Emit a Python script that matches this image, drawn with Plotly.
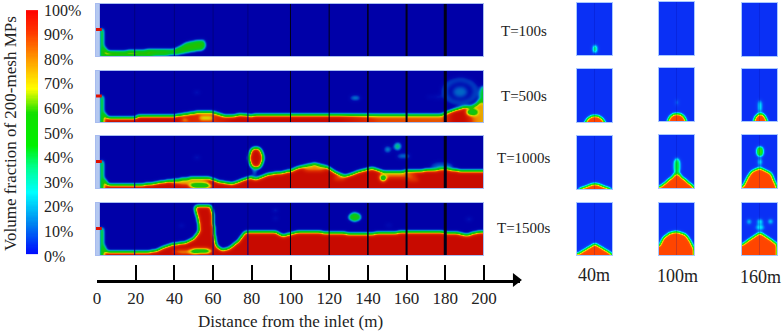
import numpy as np
import plotly.graph_objects as go

W, H = 782, 332

# colour bar stops (value fraction, colour)
bar_stops = [[0, "#0000ff"], [.13, "#0080f0"], [.26, "#00ffff"], [.36, "#00ff90"], [.45, "#00f000"],
             [.58, "#10e000"], [.68, "#ffff00"], [.80, "#ff9a00"], [.92, "#ff3000"], [1, "#ff0000"]]
main_stops = [[0, "#0000a8"], [.05, "#0008b0"], [.12, "#0048c4"], [.18, "#0088c8"], [.24, "#00b0a8"], [.30, "#00c860"],
              [.38, "#00c828"], [.58, "#20c000"], [.68, "#d8d800"], [.76, "#f09000"], [.86, "#e03000"], [1, "#c80a00"]]
cross_stops = [[0, "#0a30f5"], [.06, "#0a40f5"], [.14, "#0088f8"], [.22, "#00e8ff"], [.30, "#00f090"], [.38, "#00e830"],
               [.58, "#40e000"], [.68, "#f8f000"], [.78, "#ffa000"], [.88, "#ff5000"], [1, "#ff4500"]]

bar_ticks = list(range(0, 101, 10))
dist_ticks = list(range(0, 201, 20))
main_times = ["T=100s", "T=500s", "T=1000s", "T=1500s"]
cross_labels = ["40m", "100m", "160m"]

divider_x = [19.5, 40, 60, 78, 100, 120, 140, 160, 180]
divider_w = [1, 1, 1, 1, 1, 1, 1.5, 2, 3]
divider_c = ["#000080", "#000080", "#000080", "#000080", "#000018", "#000018", "#000018", "#000018", "#000018"]

stem_x = [2.0, 3.0, 3.0, 2.0]
stem_y = [0, 0, .52, .52]
nub_x = [-0.5, 2.5]
nub_y = [.51, .51]
band_x = [-0.5, 1.5, 1.5, -0.5]
band_y = [0, 0, 1, 1]

# bed outlines (x in m, y as a fraction of the height)
bed100_x = [3.5, 5, 10, 20, 40, 46, 50, 55, 56, 55, 48, 41, 30, 3.5]
bed100_y = [.2, .09, .08, .11, .13, .25, .285, .31, .22, .14, .10, .05, .02, 0]
level100_x = [0, 25, 45, 60]
level100_v = [90, 68, 58, 58]
blobs100 = []

bed500_x = [3.5, 5, 20, 21, 39, 41, 51, 60, 65, 70, 74, 79, 89, 99, 120, 140, 159, 178, 181, 190, 193, 196, 198, 200, 200, 3.5]
bed500_y = [.2, .085, .085, .135, .135, .135, .2, .2, .135, .12, .16, .135, .15, .15, .15, .145, .145, .155, .2, .31, .30, .36, .46, .50, 0, 0]
level500_x = [0, 40, 50, 60, 70, 125, 145, 178, 184, 190, 195, 200]
level500_v = [100, 100, 88, 88, 100, 100, 84, 82, 100, 100, 78, 72]
blobs500 = [(51.5, .59, 1.6, .03, 12), (133, .48, 2.6, .04, 22), (176, .5, 6, .03, 9),
            (187.4, .61, 10, .28, 11), (187.4, .61, 6.5, .18, 5), (187.4, .6, 3.5, .1, 15),
            (56.3, .085, 3.5, .025, 40), (45.2, .04, 2, .02, 50), (193.5, .2, 3, .06, 40), (199, .55, 1.2, .16, 42)]

bed1000_x = [3.5, 5, 20, 28, 32, 40, 49, 58, 63, 70, 77, 80, 82, 85, 89, 95, 100, 104, 112, 118, 123, 128, 135, 142, 147, 157, 168, 180, 190, 200, 200, 3.5]
bed1000_y = [.2, .075, .065, .085, .115, .16, .2, .195, .13, .09, .19, .22, .18, .22, .28, .30, .34, .41, .47, .42, .30, .235, .325, .39, .325, .325, .345, .375, .33, .345, 0, 0]
level1000_x = [0, 200]
level1000_v = [100, 100]
blobs1000 = [(48, .12, 10, .05, 72), (112, .38, 6, .05, 74), (155, .25, 10, .05, 78), (125, .2, 3, .04, 80),
             (53.4, .05, 6, .04, 35), (82.2, .585, 3.5, .2, 100), (81.5, .33, .8, .08, 24), (81.3, .23, 1.4, .04, 6),
             (51.5, .59, 1.6, .03, 12), (155, .81, 1.7, .07, 34), (149.8, .75, 1.6, .06, 22), (158, .62, 3.5, .04, 20),
             (147.5, .2, 1.5, .05, 20), (178, .44, 6, .07, 13), (163, .17, 3, .03, 80)]

bed1500_x = [3.5, 4.3, 19.8, 30.1, 33.6, 38.8, 45.7, 50, 52.9, 52.2, 50.3, 52.5, 58.6, 59.8, 60.3, 61.5, 64.6, 68, 73.2, 76.6, 80.1, 92.2, 96, 100, 103, 120, 135, 160, 185, 191, 195, 200, 200, 3.5]
bed1500_y = [.2, .075, .065, .08, .15, .215, .247, .325, .474, .70, .93, .96, .96, .80, .44, .18, .104, .13, .28, .46, .46, .46, .37, .42, .45, .44, .41, .45, .44, .385, .44, .45, 0, 0]
level1500_x = [0, 200]
level1500_v = [100, 100]
blobs1500 = [(47, .07, 8, .04, 72), (53.4, .085, 6, .04, 32), (132.8, .74, 3, .07, 58), (92.3, .72, 1.5, .03, 12),
             (150.5, .58, 1.5, .03, 10), (192, .7, 1.5, .03, 14), (43.6, .57, 1.5, .03, 12), (92.2, .87, 1.6, .03, 14)]

# cross-sections (x as a fraction of the width)
cross_rows = {
    (0, 0): ([], [], [(.5, .13, .06, .08, 42)]),
    (0, 1): ([.22, .3, .4, .5, .6, .7, .78], [0, .07, .12, .13, .12, .07, 0], []),
    (0, 2): ([.03, .5, .97], [0, .115, 0], []),
    (0, 3): ([0, .5, 1, 1, 0], [.02, .225, .02, 0, 0], []),
    (1, 0): ([], [], []),
    (1, 1): ([.24, .3, .4, .5, .6, .7, .77], [0, .09, .135, .14, .135, .09, 0], [(.5, .36, .03, .05, 24)]),
    (1, 2): ([0, .2, .4, .5, .6, .8, 1, 1, 0], [.02, .12, .24, .33, .24, .12, .02, 0, 0], [(.5, .42, .09, .16, 42)]),
    (1, 3): ([0, .12, .31, .5, .74, .88, .97, 1, 1, 0], [.18, .34, .436, .455, .40, .276, .15, .13, 0, 0], []),
    (2, 0): ([], [], []),
    (2, 1): ([.32, .38, .44, .5, .57, .64, .71], [0, .09, .14, .15, .14, .09, 0], [(.5, .29, .06, .12, 28)]),
    (2, 2): ([0, .24, .5, .81, .98, 1, 0], [.02, .31, .39, .28, .02, 0, 0], [(.5, .70, .1, .09, 60), (.5, .5, .05, .08, 30)]),
    (2, 3): ([0, .5, 1, 1, 0], [.21, .443, .21, 0, 0], [(.5, .65, .1, .05, 26), (.5, .54, .13, .05, 26), (.19, .65, .07, .05, 26), (.8, .65, .07, .05, 26)]),
}

main_panels = [
    (bed100_x, bed100_y, level100_x, level100_v, blobs100, 4, 56),
    (bed500_x, bed500_y, level500_x, level500_v, blobs500, 71, 122),
    (bed1000_x, bed1000_y, level1000_x, level1000_v, blobs1000, 136, 188),
    (bed1500_x, bed1500_y, level1500_x, level1500_v, blobs1500, 203, 255),
]
cross_cols = [(577, 612), (659, 694), (742, 777)]
cross_tops = [[(3, 55), (69, 122), (136, 189), (203, 255)],
              [(2, 55), (68, 121), (135, 188), (203, 255)],
              [(3, 56), (69, 121), (135, 188), (203, 255)]]


def inside(px, py, X, Y):
    px, py = np.asarray(px, float), np.asarray(py, float)
    res = np.zeros(X.shape, bool)
    n = len(px)
    for i in range(n):
        x0, y0, x1, y1 = px[i], py[i], px[(i + 1) % n], py[(i + 1) % n]
        if y0 == y1:
            continue
        cond = (y0 > Y) != (y1 > Y)
        xc = x0 + (Y - y0) * (x1 - x0) / (y1 - y0)
        res ^= cond & (X < xc)
    return res


def blur(a, s):
    r = int(3 * s) + 1
    k = np.exp(-0.5 * (np.arange(-r, r + 1) / s) ** 2)
    k /= k.sum()
    p = np.pad(a, r, mode="edge")
    p = np.apply_along_axis(lambda v: np.convolve(v, k, mode="same"), 0, p)
    p = np.apply_along_axis(lambda v: np.convolve(v, k, mode="same"), 1, p)
    return p[r:-r, r:-r]


def ellipses(m, blobs, X, Y):
    for cx, cy, rx, ry, v in blobs:
        m[((X - cx) / rx) ** 2 + ((Y - cy) / ry) ** 2 <= 1] = v


def px_x(a):
    return a / W


def px_y(a):
    return 1 - a / H


fig = go.Figure()
layout = {}
shapes = []
annotations = []
ax = 0


def axes(x0, x1, y0, y1, xr, yr, line=None, **kw):
    global ax
    ax += 1
    base = dict(showgrid=False, zeroline=False, showticklabels=False, ticks="", fixedrange=True, automargin=False)
    lk = dict(showline=bool(line), linecolor=line or "white", linewidth=1, mirror=bool(line))
    layout[f"xaxis{ax}"] = dict(domain=[px_x(x0), px_x(x1)], range=xr, anchor=f"y{ax}", **base, **lk)
    layout[f"yaxis{ax}"] = dict(domain=[px_y(y1), px_y(y0)], range=yr, anchor=f"x{ax}", **base, **lk)
    return f"x{ax}", f"y{ax}"


# main panels
for bx, by, lx, lv, blobs, top, bot in main_panels:
    xa, ya = axes(96, 483, top, bot, [-0.5, 199.5], [0, 1], line="#a8bcf0")
    xs = np.linspace(-0.5, 199.5, 387)
    ys = np.linspace(0, 1, bot - top + 1)
    X, Y = np.meshgrid(xs, ys)
    m = inside(bx, by, X, Y) * np.interp(X, lx, lv)
    m[inside(stem_x, stem_y, X, Y)] = 80
    ellipses(m, blobs, X, Y)
    z = blur(m, 1.9)
    fig.add_trace(go.Heatmap(x=xs, y=ys, z=z, zmin=0, zmax=100, colorscale=main_stops, showscale=False,
                             zsmooth="best", hoverinfo="skip", xaxis=xa, yaxis=ya))
    fig.add_trace(go.Scatter(x=band_x, y=band_y, fill="toself", fillcolor="#b4c8f0", mode="none",
                             hoverinfo="skip", xaxis=xa, yaxis=ya, showlegend=False))
    fig.add_trace(go.Scatter(x=nub_x, y=nub_y, mode="lines", line=dict(color="#e01000", width=3),
                             hoverinfo="skip", xaxis=xa, yaxis=ya, showlegend=False))
    for dx, dw, dc in zip(divider_x, divider_w, divider_c):
        shapes.append(dict(type="line", xref=xa, yref=ya, x0=dx, x1=dx, y0=0, y1=1, line=dict(color=dc, width=dw)))

# cross-section panels
for c, (x0, x1) in enumerate(cross_cols):
    for r, (top, bot) in enumerate(cross_tops[c]):
        bx, by, blobs = cross_rows[(c, r)]
        xa, ya = axes(x0, x1, top, bot, [0, 1], [0, 1], line="#a8c8ff")
        xs = np.linspace(0, 1, x1 - x0 + 1)
        ys = np.linspace(0, 1, bot - top + 1)
        X, Y = np.meshgrid(xs, ys)
        m = np.zeros(X.shape)
        if bx:
            m[inside(bx, by, X, Y)] = 100
        ellipses(m, blobs, X, Y)
        z = blur(m, 1.7)
        fig.add_trace(go.Heatmap(x=xs, y=ys, z=z, zmin=0, zmax=100, colorscale=cross_stops, showscale=False,
                                 zsmooth="best", hoverinfo="skip", xaxis=xa, yaxis=ya))
        shapes.append(dict(type="line", xref=xa, yref=ya, x0=.5, x1=.5, y0=0, y1=1,
                           line=dict(color="rgba(0,0,140,0.2)", width=1)))

# colour bar
xa, ya = axes(26, 38, 10, 256, [0, 1], [0, 100])
bar_vals = np.arange(1.2, 100.01, 0.5)
fig.add_trace(go.Heatmap(x=[0, 1], y=bar_vals, z=[[v, v] for v in bar_vals], zmin=0, zmax=100,
                         colorscale=bar_stops, showscale=False, hoverinfo="skip", xaxis=xa, yaxis=ya))
layout[f"yaxis{ax}"].update(side="right", showticklabels=True, tickvals=bar_ticks,
                            ticktext=[f"{v}%" for v in bar_ticks], ticklabelstandoff=5,
                            tickfont=dict(family="Liberation Serif", size=16, color="#222"))

# distance axis
xa, ya = axes(97, 520, 264, 280, [0, 218.6], [0, 1])
fig.add_trace(go.Scatter(x=[216.5], y=[0], mode="markers", cliponaxis=False, hoverinfo="skip", xaxis=xa, yaxis=ya,
                         marker=dict(symbol="triangle-right", size=12, color="black"), showlegend=False))
layout[f"xaxis{ax}"].update(showline=True, linecolor="black", linewidth=3, mirror=False, ticks="inside", ticklen=15,
                            tickwidth=2, tickcolor="black", tickvals=dist_ticks, showticklabels=True,
                            ticklabelstandoff=1, tickfont=dict(family="Liberation Serif", size=17, color="#222"))
annotations.append(dict(xref=xa, x=100, yref="paper", y=px_y(321), xanchor="center", yanchor="middle", showarrow=False,
                        text="Distance from the inlet (m)", font=dict(family="Liberation Serif", size=17, color="#222")))

font14 = dict(family="Liberation Serif", size=15, color="#222")
font18 = dict(family="Liberation Serif", size=18, color="#222")
common = dict(xref="paper", yref="paper", showarrow=False, xanchor="center", yanchor="middle")
for t, y in zip(main_times, [31, 96, 158, 228]):
    annotations.append(dict(x=px_x(524), y=px_y(y), text=t, font=font14, **common))
for t, x, y in zip(cross_labels, [594, 677, 760], [275, 276, 277]):
    annotations.append(dict(x=px_x(x), y=px_y(y), text=t, font=font18, **common))
annotations.append(dict(x=px_x(10), y=px_y(134), text="Volume fraction of 200-mesh MPs", textangle=-90,
                        font=dict(family="Liberation Serif", size=17, color="#222"), **common))

fig.update_layout(template="none", width=W, height=H, margin=dict(l=0, r=0, t=0, b=0), paper_bgcolor="white",
                  plot_bgcolor="white", showlegend=False, shapes=shapes, annotations=annotations, **layout)
fig.write_html("out.html", config={"displayModeBar": False}, post_script="document.body.style.margin='0';")
